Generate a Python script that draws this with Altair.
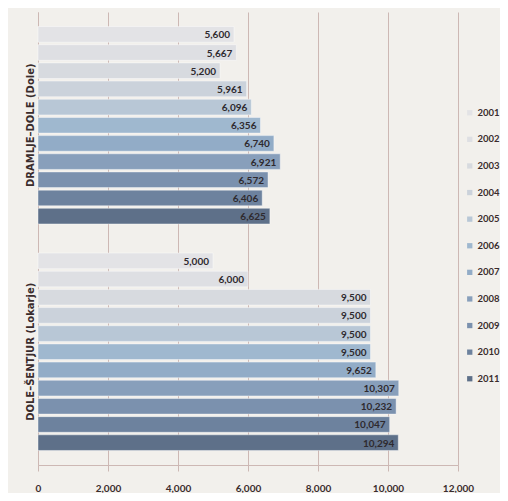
import altair as alt
import pandas as pd

groups = ["DRAMLJE–DOLE (Dole)", "DOLE–ŠENTJUR (Lokarje)"]
years = ["2001", "2002", "2003", "2004", "2005", "2006", "2007", "2008", "2009", "2010", "2011"]
dole = [5600, 5667, 5200, 5961, 6096, 6356, 6740, 6921, 6572, 6406, 6625]
sentjur = [5000, 6000, 9500, 9500, 9500, 9500, 9652, 10307, 10232, 10047, 10294]
colors = ["#e3e3e6", "#dedfe3", "#d7dadf", "#cbd2db", "#b8c7d6", "#9fb8cf",
          "#92acc7", "#889fbb", "#7b91ae", "#6d829e", "#5e7089"]
xticks = [0, 2000, 4000, 6000, 8000, 10000, 12000]

rows = []
for g, vals in zip(groups, [dole, sentjur]):
    for y, v in zip(years, vals):
        rows.append({"group": g, "year": y, "value": v})
df = pd.DataFrame(rows)

font = "Lato"
txt = "#3a2c2c"
grid = "#cdb8b4"

base = alt.Chart(df).encode(
    y=alt.Y("group:N", sort=groups, title=None,
            scale=alt.Scale(paddingInner=0, paddingOuter=0),
            axis=alt.Axis(labelAngle=-90, labelAlign="center", labelBaseline="bottom",
                          labelFontWeight="bold", labelFontSize=10, labelColor=txt,
                          labelFont="DejaVu Sans", ticks=False, labelPadding=3,
                          domainColor=grid, grid=False)),
    yOffset=alt.YOffset("year:N", sort=years,
                        scale=alt.Scale(paddingInner=0.14, paddingOuter=0.8)),
)

bars = base.mark_bar(stroke="#ffffff", strokeWidth=0.6, strokeOpacity=0.7).encode(
    x=alt.X("value:Q", title=None,
            scale=alt.Scale(domain=[0, 12000], nice=False),
            axis=alt.Axis(values=xticks, labelExpr="format(datum.value, ',')",
                          labelFont=font, labelFontSize=10, labelFontWeight="bold",
                          labelColor=txt, gridColor=grid, gridWidth=1, domainColor=grid,
                          tickColor=grid, tickSize=6, labelPadding=12, labelFlush=False)),
    color=alt.Color("year:N", sort=years, title=None,
                    scale=alt.Scale(domain=years, range=colors),
                    legend=alt.Legend(orient="none", legendX=427, legendY=96,
                                      symbolType="square", symbolSize=28,
                                      symbolStrokeWidth=0, labelFont=font,
                                      labelFontSize=9.5, labelFontWeight="bold",
                                      labelColor=txt, rowPadding=15.6, labelOffset=3)),
)

labels = base.mark_text(align="right", baseline="middle", dx=-4, dy=1, font=font,
                        fontSize=10, fontWeight="bold", color="#2e2a2e").encode(
    x="value:Q",
    text=alt.Text("value:Q", format=","),
)

chart = (bars + labels).properties(
    width=420, height=453,
    background="#f2f0ec",
    padding={"left": 30, "top": 4, "right": 42, "bottom": 28},
    autosize=alt.AutoSizeParams(type="none"),
).configure_view(stroke=None)

chart.save("out.html", embed_options={"renderer": "svg", "actions": False})
